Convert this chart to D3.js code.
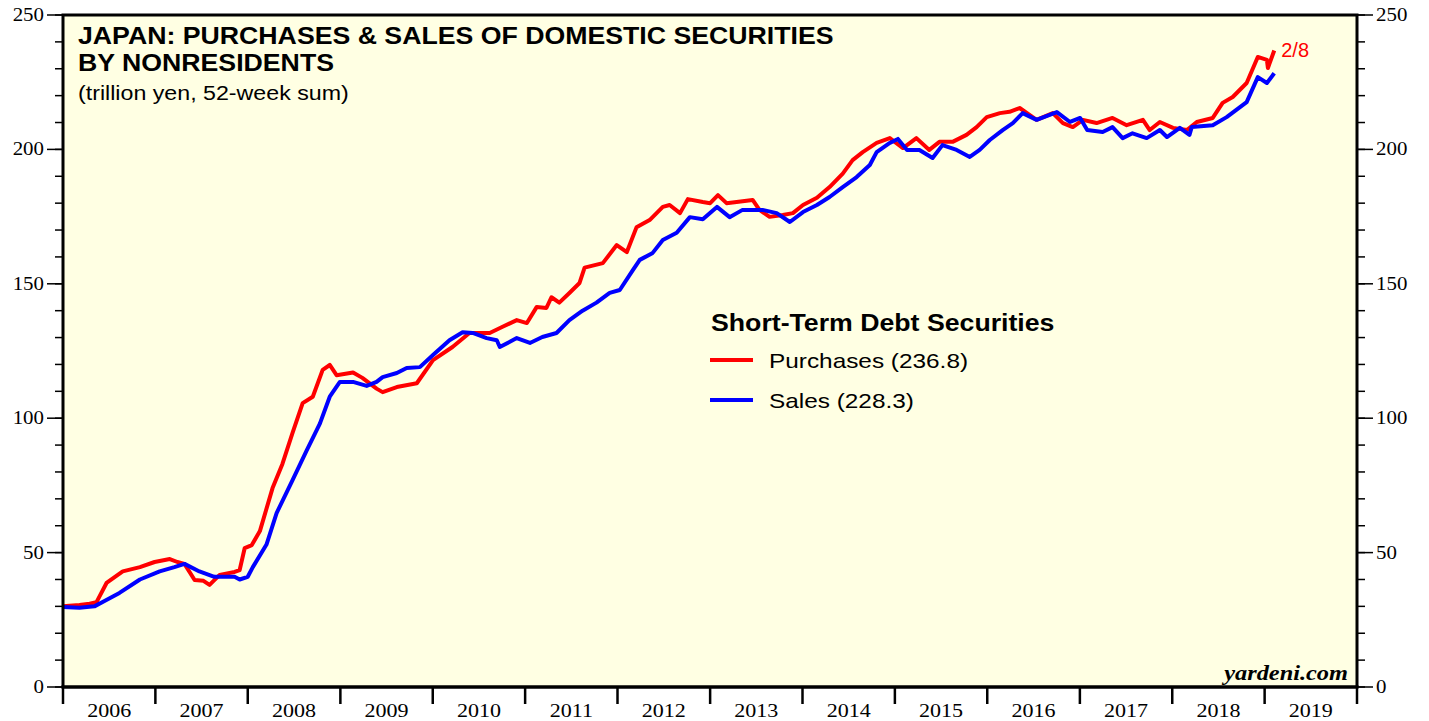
<!DOCTYPE html>
<meta charset="utf-8">
<style>
body, html {
  margin: 0;
  padding: 0;
  background: #fff;
  overflow: hidden;
}
.serif { font-family: "Liberation Serif", "Times New Roman", serif; }
.sans { font-family: "Liberation Sans", Arial, sans-serif; }
</style>
<svg width="1429" height="721"></svg>
<script src="https://cdn.jsdelivr.net/npm/d3@7"></script>
<script>

// weekly 52-week sums (trillion yen)
var purchaseDates = [
  "2006-01-01","2006-03-07","2006-04-16","2006-05-13","2006-06-22","2006-08-25","2006-11-01","2006-12-29",
  "2007-02-27","2007-03-29","2007-04-26","2007-06-05","2007-07-10","2007-08-03","2007-09-12","2007-11-10","2007-11-30","2007-12-20",
  "2008-01-17","2008-02-18","2008-04-08","2008-05-17","2008-06-26","2008-08-05","2008-09-14","2008-10-23","2008-11-20","2008-12-17",
  "2009-02-20","2009-03-29","2009-05-24","2009-06-17","2009-08-12","2009-10-30",
  "2010-01-02","2010-03-20","2010-05-26","2010-08-14","2010-10-04","2010-11-29",
  "2011-01-08","2011-02-16","2011-03-26","2011-04-15","2011-05-16","2011-06-25","2011-08-04","2011-08-24","2011-11-04","2011-12-29",
  "2012-02-07","2012-03-16","2012-05-07","2012-06-28","2012-07-25","2012-09-04","2012-10-05","2012-12-03",
  "2013-01-01","2013-02-01","2013-03-07","2013-06-18","2013-07-15","2013-08-24","2013-10-15","2013-11-24",
  "2014-01-03","2014-02-27","2014-04-18","2014-06-09","2014-07-18","2014-08-27","2014-10-21","2014-12-12",
  "2015-02-02","2015-03-27","2015-05-17","2015-06-26","2015-08-17","2015-10-11","2015-11-20","2015-12-30",
  "2016-02-20","2016-03-29","2016-05-08","2016-07-14","2016-09-16","2016-10-26","2016-12-04",
  "2017-01-13","2017-03-08","2017-05-10","2017-07-05","2017-09-07","2017-10-04","2017-11-13",
  "2018-01-04","2018-02-28","2018-04-08","2018-06-10","2018-07-19","2018-08-28","2018-10-22","2018-12-05",
  "2019-01-10","2019-01-14","2019-02-08"
];
var purchaseValues = [
  30, 30.5, 31, 31.5, 38.7, 43, 44.6, 46.5,
  47.6, 46.5, 45.8, 39.8, 39.5, 38, 41.7, 42.8, 43.5, 51.7,
  52.8, 58, 74, 83, 94.5, 105.6, 108, 118, 119.8, 116,
  117, 115, 111, 109.7, 111.6, 113,
  121.6, 126.5, 131.7, 131.7, 134, 136.5,
  135.4, 141.4, 141, 145, 143, 146.6, 150.3, 156, 157.7, 164.4,
  161.8, 171, 173.7, 178.6, 179.3, 176.3, 181.5, 180.4,
  180, 183, 180, 181.2, 177.5, 174.9, 175.6, 176.3,
  179.3, 182, 186, 191, 196, 199, 202.4, 204.2,
  200.5, 204.2, 199.8, 202.8, 202.8, 205.4, 208.3, 212,
  213.5, 214, 215.4, 211, 213.5, 209.8, 208.3,
  211, 209.8, 211.7, 209, 211, 207.2, 210.2,
  208, 207.2, 210.2, 211.7, 217.3, 219.5, 224.7, 234.4,
  233.3, 230.3, 236.8
];

var salesDates = [
  "2006-01-01","2006-03-07","2006-05-05","2006-06-14","2006-08-12","2006-11-01",
  "2007-01-18","2007-03-17","2007-04-26","2007-06-24","2007-08-22","2007-11-10","2007-11-30",
  "2008-01-01","2008-01-21","2008-03-15","2008-04-24","2008-06-26","2008-08-21","2008-10-12","2008-11-20","2008-12-30",
  "2009-02-20","2009-04-15","2009-05-24","2009-06-17","2009-08-12","2009-09-20","2009-11-11",
  "2010-01-02","2010-03-08","2010-04-29","2010-06-08","2010-08-02","2010-09-11","2010-09-23","2010-11-29",
  "2011-01-20","2011-03-10","2011-05-05","2011-06-25","2011-08-16","2011-10-10","2011-12-01",
  "2012-01-10","2012-03-01","2012-03-29","2012-05-19","2012-06-28","2012-08-22","2012-10-13","2012-12-03",
  "2013-01-28","2013-03-19","2013-05-09","2013-07-27","2013-09-21","2013-11-12",
  "2014-01-03","2014-02-27","2014-04-18","2014-06-09","2014-08-03","2014-09-24","2014-10-21","2014-12-12",
  "2015-01-13","2015-02-18","2015-04-08","2015-05-30","2015-07-08","2015-09-02","2015-10-24","2015-12-02",
  "2016-01-11","2016-03-02","2016-04-11","2016-05-20","2016-07-14","2016-10-02","2016-11-23",
  "2017-01-02","2017-01-30","2017-04-01","2017-05-10","2017-06-19","2017-07-28","2017-09-22","2017-11-13","2017-12-11",
  "2018-01-31","2018-03-10","2018-03-19","2018-06-10","2018-08-04","2018-10-22","2018-12-05",
  "2019-01-10","2019-02-08"
];
var salesValues = [
  29.8, 29.5, 30, 32, 35, 40,
  43, 44.6, 45.8, 43, 41, 41, 40,
  41, 44.6, 53, 64.7, 77, 88, 98, 108, 113.5,
  113.5, 112, 113.5, 115.3, 116.8, 118.7, 119,
  123.5, 129, 132, 131.7, 129.8, 129, 126.5, 129.8,
  128, 130.2, 131.7, 136.5, 140, 143, 146.6,
  147.7, 155, 158.9, 161.5, 166.3, 169, 174.8, 174,
  178.6, 174.8, 177.5, 177.5, 176.3, 173,
  176.7, 179.3, 182.3, 186, 189.7, 194.2, 199, 202.4,
  203.9, 199.8, 199.8, 196.8, 201.6, 199.8, 197.2, 199.8,
  203.5, 207.2, 209.8, 213.5, 211, 213.9, 210.2,
  211.7, 207.2, 206.5, 208.3, 204.2, 206, 204.2, 207.2, 204.6,
  208, 205.4, 208.3, 209, 212, 217.6, 226.9,
  224.7, 228.3
];

var years = d3.range(2006, 2020);
var yTicks = [0, 50, 100, 150, 200, 250];

var margin = {left: 63, right: 72, top: 15, bottom: 34};
var width = 1429, height = 721;
var x0 = margin.left, x1 = width - margin.right,
    y0 = height - margin.bottom, y1 = margin.top;

// the reference lettering is drawn a bit wide
var stretch = 1.16;
function widen(sel) {
  sel.each(function() {
    var w = this.getComputedTextLength();
    d3.select(this).attr("textLength", w * stretch).attr("lengthAdjust", "spacingAndGlyphs");
  });
}

var parse = d3.timeParse("%Y-%m-%d");

var x = d3.scaleTime()
    .domain([new Date(2006, 0, 1), new Date(2020, 0, 1)])
    .range([x0, x1]);

var y = d3.scaleLinear()
    .domain([0, 250])
    .range([y0, y1]);

var svg = d3.select("svg");

svg.append("rect")
    .attr("x", x0).attr("y", y1)
    .attr("width", x1 - x0).attr("height", y0 - y1)
    .attr("fill", "#ffffe3");

var line = d3.line()
    .x(function(d) { return x(d[0]); })
    .y(function(d) { return y(d[1]); });

var purchases = purchaseDates.map(function(d, i) { return [parse(d), purchaseValues[i]]; }),
    sales = salesDates.map(function(d, i) { return [parse(d), salesValues[i]]; });

svg.append("path").datum(purchases)
    .attr("d", line)
    .attr("fill", "none").attr("stroke", "#ff0000")
    .attr("stroke-width", 4).attr("stroke-linejoin", "round");

svg.append("path").datum(sales)
    .attr("d", line)
    .attr("fill", "none").attr("stroke", "#0000ff")
    .attr("stroke-width", 4).attr("stroke-linejoin", "round");

// left & right y axes
var minor = d3.range(0, 251, 10);

function yAxis(g, side) {
  var dir = side === "left" ? -1 : 1,
      xe = side === "left" ? x0 : x1;
  g.selectAll("line.minor").data(minor).enter().append("line")
      .attr("x1", xe).attr("x2", xe + dir * 8)
      .attr("y1", function(d) { return y(d); }).attr("y2", function(d) { return y(d); })
      .attr("stroke", "#000").attr("stroke-width", 1.5);
  g.selectAll("line.major").data(yTicks).enter().append("line")
      .attr("x1", xe).attr("x2", xe + dir * 16)
      .attr("y1", function(d) { return y(d); }).attr("y2", function(d) { return y(d); })
      .attr("stroke", "#000").attr("stroke-width", 1.5);
  g.selectAll("text").data(yTicks).enter().append("text")
      .attr("class", "serif")
      .attr("x", xe + dir * 19)
      .attr("y", function(d) { return y(d) + 6; })
      .attr("text-anchor", side === "left" ? "end" : "start")
      .attr("font-size", 18)
      .text(function(d) { return d; })
      .call(widen);
}
svg.append("g").call(yAxis, "left");
svg.append("g").call(yAxis, "right");

// x axis: year boundaries and centred year labels
svg.selectAll("line.year").data(years.concat([2020])).enter().append("line")
    .attr("x1", function(d) { return x(new Date(d, 0, 1)); })
    .attr("x2", function(d) { return x(new Date(d, 0, 1)); })
    .attr("y1", y0).attr("y2", y0 + 17)
    .attr("stroke", "#000").attr("stroke-width", 2.5);

svg.selectAll("text.year").data(years).enter().append("text")
    .attr("class", "serif")
    .attr("x", function(d) { return (x(new Date(d, 0, 1)) + x(new Date(d + 1, 0, 1))) / 2; })
    .attr("y", 717)
    .attr("text-anchor", "middle")
    .attr("font-size", 19)
    .text(function(d) { return d; })
    .call(widen);

// frame
svg.append("path")
    .attr("d", "M" + x0 + "," + y0 + "V" + y1 + "H" + x1 + "V" + y0)
    .attr("fill", "none").attr("stroke", "#000").attr("stroke-width", 3);
svg.append("line")
    .attr("x1", x0 - 1.5).attr("x2", x1 + 1.5).attr("y1", y0).attr("y2", y0)
    .attr("stroke", "#000").attr("stroke-width", 3.5);

// titles
svg.append("text").attr("class", "sans")
    .attr("x", 78).attr("y", 44)
    .attr("font-size", 23).attr("font-weight", "bold")
    .text("JAPAN: PURCHASES & SALES OF DOMESTIC SECURITIES")
    .call(widen);
svg.append("text").attr("class", "sans")
    .attr("x", 78).attr("y", 71)
    .attr("font-size", 23).attr("font-weight", "bold")
    .text("BY NONRESIDENTS")
    .call(widen);
svg.append("text").attr("class", "sans")
    .attr("x", 78).attr("y", 100)
    .attr("font-size", 20)
    .text("(trillion yen, 52-week sum)")
    .call(widen);

// legend
var lg = svg.append("g").attr("transform", "translate(710,0)");
lg.append("text").attr("class", "sans")
    .attr("x", 1).attr("y", 331)
    .attr("font-size", 23).attr("font-weight", "bold")
    .text("Short-Term Debt Securities")
    .call(widen);
[["Purchases (236.8)", "#ff0000", 360], ["Sales (228.3)", "#0000ff", 400]].forEach(function(d) {
  lg.append("line")
      .attr("x1", 0).attr("x2", 43).attr("y1", d[2]).attr("y2", d[2])
      .attr("stroke", d[1]).attr("stroke-width", 4);
  lg.append("text").attr("class", "sans")
      .attr("x", 59).attr("y", d[2] + 8)
      .attr("font-size", 21)
      .text(d[0])
      .call(widen);
});

// last date label
var last = purchases[purchases.length - 1];
svg.append("text").attr("class", "sans")
    .attr("x", x(last[0]) + 7).attr("y", y(last[1]) + 7)
    .attr("font-size", 20).attr("fill", "#ff0000")
    .text("2/8");

svg.append("text").attr("class", "serif")
    .attr("x", 1348).attr("y", 680)
    .attr("text-anchor", "end")
    .attr("font-size", 21).attr("font-weight", "bold").attr("font-style", "italic")
    .text("yardeni.com")
    .call(widen);

</script>
